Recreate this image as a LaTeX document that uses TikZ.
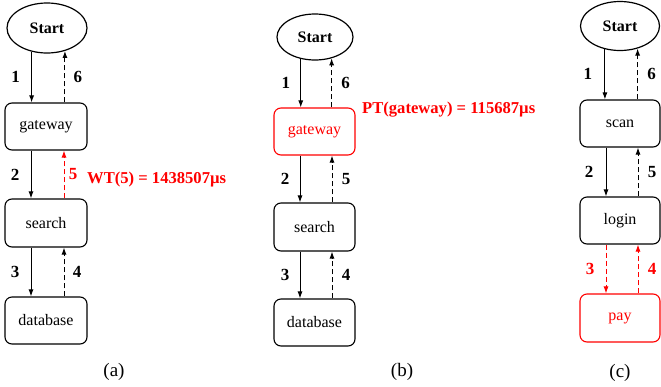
\documentclass[tikz,border=0pt]{standalone}
\usepackage{fontspec}
\setmainfont{Liberation Serif}
\usetikzlibrary{shapes.geometric,arrows.meta}
\definecolor{hl}{RGB}{255,0,0}
\tikzset{
  startnode/.style={ellipse,draw,line width=1.2pt,inner sep=0pt,font=\fontsize{16}{18}\selectfont\bfseries},
  boxnode/.style={rectangle,draw,rounded corners=7pt,line width=1.1pt,minimum width=82pt,minimum height=47pt,inner sep=0pt,font=\fontsize{16}{18}\selectfont},
  hot/.style={draw=hl,text=hl},
  arr/.style={line width=1pt,-{Latex[length=7pt,width=5pt]}},
  ret/.style={arr,dash pattern=on 5pt off 3pt},
  lbl/.style={font=\fontsize{17}{19}\selectfont\bfseries,inner sep=0pt},
  note/.style={font=\fontsize{16.6}{19}\selectfont\bfseries,inner sep=0pt,text=hl},
  captxt/.style={font=\fontsize{19}{21}\selectfont,inner sep=0pt},
}
\begin{document}
\begin{tikzpicture}[x=1pt,y=-1pt]
\useasboundingbox (0,0) rectangle (661,386);
% ---------------- (a)
\node[startnode,minimum width=80pt,minimum height=50pt] (sa) at (47,28) {Start};
\node[boxnode] (ga) at (46,126.5) {gateway};
\node[boxnode,minimum height=48pt] (sea) at (46,223) {search};
\node[boxnode] (da) at (46,320.5) {database};
\draw[arr] (sa.237) -- (sa.237 |- ga.north) node[lbl,midway,xshift=-16pt] {1};
\draw[ret] (ga.north -| sa.308) -- (sa.308) node[lbl,midway,xshift=13pt] {6};
\draw[arr] ([xshift=-15pt]ga.south) -- ([xshift=-15pt]sea.north) node[lbl,midway,xshift=-16pt] {2};
\draw[ret,hl] ([xshift=18pt]sea.north) -- ([xshift=18pt]ga.south) node[lbl,midway,xshift=9pt,text=hl] (l5a) {5};
\node[note,anchor=west] (wt) at (87,180) {WT(5) = 1438507µs};
\draw[arr] ([xshift=-15pt]sea.south) -- ([xshift=-15pt]da.north) node[lbl,midway,xshift=-16pt] {3};
\draw[ret] ([xshift=18pt]da.north) -- ([xshift=18pt]sea.south) node[lbl,midway,xshift=13pt] {4};
\node[captxt] (ca) at (114,372) {(a)};
% ---------------- (b)
\node[startnode,minimum width=76pt,minimum height=46pt] (sb) at (315,37) {Start};
\node[boxnode,hot,minimum width=81pt] (gb) at (314.5,131.5) {gateway};
\node[boxnode,minimum width=81pt,minimum height=48pt] (seb) at (314.5,227) {search};
\node[boxnode,minimum width=81pt] (db) at (314.5,322.5) {database};
\draw[arr] (sb.237) -- (sb.237 |- gb.north) node[lbl,midway,xshift=-15pt] {1};
\draw[ret] (gb.north -| sb.308) -- (sb.308) node[lbl,midway,xshift=14pt] {6};
\draw[arr] ([xshift=-14.5pt]gb.south) -- ([xshift=-14.5pt]seb.north) node[lbl,midway,xshift=-15pt] {2};
\draw[ret] ([xshift=17.5pt]seb.north) -- ([xshift=17.5pt]gb.south) node[lbl,midway,xshift=14pt] {5};
\node[note,anchor=west] (pt) at (362,110) {PT(gateway) = 115687µs};
\draw[arr] ([xshift=-14.5pt]seb.south) -- ([xshift=-14.5pt]db.north) node[lbl,midway,xshift=-15pt] {3};
\draw[ret] ([xshift=17.5pt]db.north) -- ([xshift=17.5pt]seb.south) node[lbl,midway,xshift=14pt] {4};
\node[captxt] (cb) at (402,372) {(b)};
% ---------------- (c)
\node[startnode,minimum width=79pt,minimum height=49pt] (sc) at (620,26) {Start};
\node[boxnode,minimum width=80pt] (gc) at (620,123.5) {scan};
\node[boxnode,minimum width=80pt] (lc) at (620,220.5) {login};
\node[boxnode,hot,minimum width=80pt,minimum height=48pt] (pc) at (620,318) {pay};
\draw[arr] (sc.237) -- (sc.237 |- gc.north) node[lbl,midway,xshift=-17pt] {1};
\draw[ret] (gc.north -| sc.308) -- (sc.308) node[lbl,midway,xshift=14pt] {6};
\draw[arr] ([xshift=-14pt]gc.south) -- ([xshift=-14pt]lc.north) node[lbl,midway,xshift=-17pt] {2};
\draw[ret] ([xshift=18pt]lc.north) -- ([xshift=18pt]gc.south) node[lbl,midway,xshift=14pt] {5};
\draw[ret,hl] ([xshift=-14pt]lc.south) -- ([xshift=-14pt]pc.north) node[lbl,midway,xshift=-16pt,text=hl] {3};
\draw[ret,hl] ([xshift=18pt]pc.north) -- ([xshift=18pt]lc.south) node[lbl,midway,xshift=14pt,text=hl] {4};
\node[captxt] (cc) at (620,373) {(c)};
\end{tikzpicture}
\end{document}
